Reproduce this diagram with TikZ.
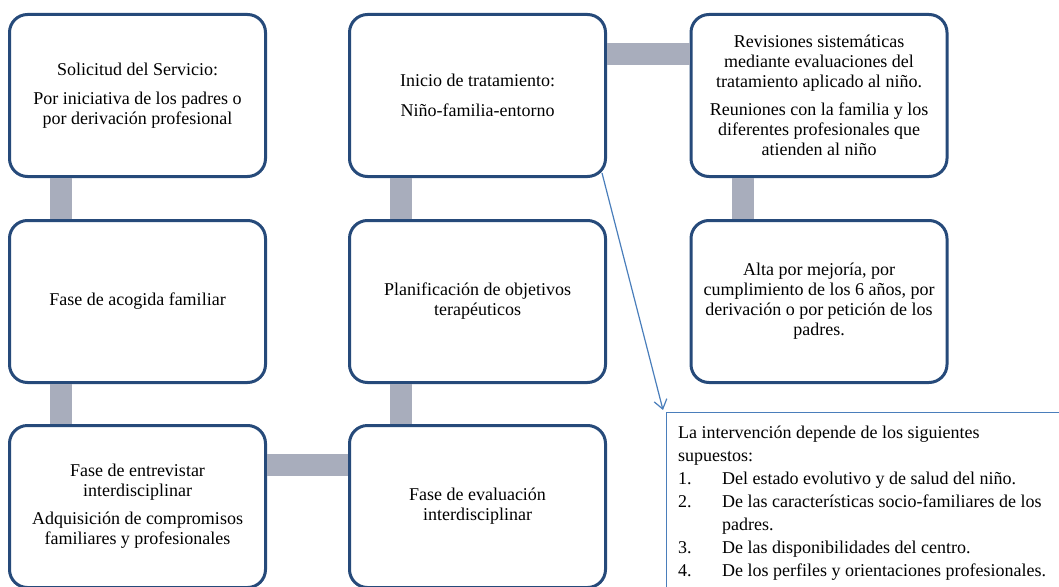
\documentclass[tikz,border=0pt]{standalone}
\usepackage{fontspec}
\setmainfont{Liberation Serif}
\usetikzlibrary{arrows.meta,calc}
\definecolor{boxblue}{HTML}{264A7A}
\definecolor{bargray}{HTML}{A8ADBC}
\definecolor{linkblue}{HTML}{4A7EBB}
\begin{document}
\begin{tikzpicture}[x=1pt,y=-1pt,
  stage/.style={draw=boxblue, line width=3pt, rounded corners=18pt, fill=white,
    minimum width=256pt, minimum height=162pt, align=center, inner sep=4pt,
    font=\fontsize{18}{20}\selectfont},
  bar/.style={draw=bargray, line width=22pt},
  link/.style={draw=linkblue, line width=1.2pt},
  notebox/.style={draw=linkblue, line width=1.2pt, minimum width=420pt, minimum height=200pt, anchor=north west},
  notetext/.style={anchor=north west, align=left, inner sep=0pt, font=\fontsize{18}{23}\selectfont}]
\useasboundingbox (0,0) rectangle (1059,586);

% first column
\node[stage] (A) at (137.5,95.5) {Solicitud del Servicio:\\[9pt]Por iniciativa de los padres o\\por derivación profesional};
\node[stage] (B) at (137.5,301.5) {Fase de acogida familiar};
\node[stage] (C) at (137.5,506.5) {Fase de entrevistar\\interdisciplinar\\[8pt]Adquisición de compromisos\\familiares y profesionales};
% second column
\node[stage] (D) at (477.5,95.5) {Inicio de tratamiento:\\[10pt]Niño-familia-entorno};
\node[stage] (E) at (477.5,301.5) {Planificación de objetivos\\terapéuticos};
\node[stage] (F) at (477.5,506.5) {Fase de evaluación\\interdisciplinar};
% third column
\node[stage] (G) at (819,95.5) {Revisiones sistemáticas\\mediante evaluaciones del\\tratamiento aplicado al niño.\\[8pt]Reuniones con la familia y los\\diferentes profesionales que\\atienden al niño};
\node[stage] (H) at (819,301.5) {Alta por mejoría, por\\cumplimiento de los 6 años, por\\derivación o por petición de los\\padres.};

% gray connectors
\draw[bar] ([xshift=53pt]A.south west) -- ([xshift=53pt]B.north west);
\draw[bar] ([xshift=53pt]B.south west) -- ([xshift=53pt]C.north west);
\draw[bar] ([xshift=53pt]F.north west) -- ([xshift=53pt]E.south west);
\draw[bar] ([xshift=53pt]E.north west) -- ([xshift=53pt]D.south west);
\draw[bar] ([yshift=-41pt]C.north east) -- ([yshift=-41pt]F.north west);
\draw[bar] ([yshift=-41pt]D.north east) -- ([yshift=-41pt]G.north west);
\draw[bar] ([xshift=53pt]G.south west) -- ([xshift=53pt]H.north west);

% note box
\node[notebox] (I) at (666,412) {};
\node[notetext] (It) at (678,426) {La intervención depende de los siguientes\\
supuestos:\\
\makebox[44pt][l]{1.}Del estado evolutivo y de salud del niño.\\
\makebox[44pt][l]{2.}De las características socio-familiares de los\\
\hspace*{44pt}padres.\\
\makebox[44pt][l]{3.}De las disponibilidades del centro.\\
\makebox[44pt][l]{4.}De los perfiles y orientaciones profesionales.};

\coordinate (iend) at (663,410);
\draw[link, -{Straight Barb[length=9pt,width=13pt]}] ([shift={(-5pt,5pt)}]D.south east) -- (iend);
\end{tikzpicture}
\end{document}
